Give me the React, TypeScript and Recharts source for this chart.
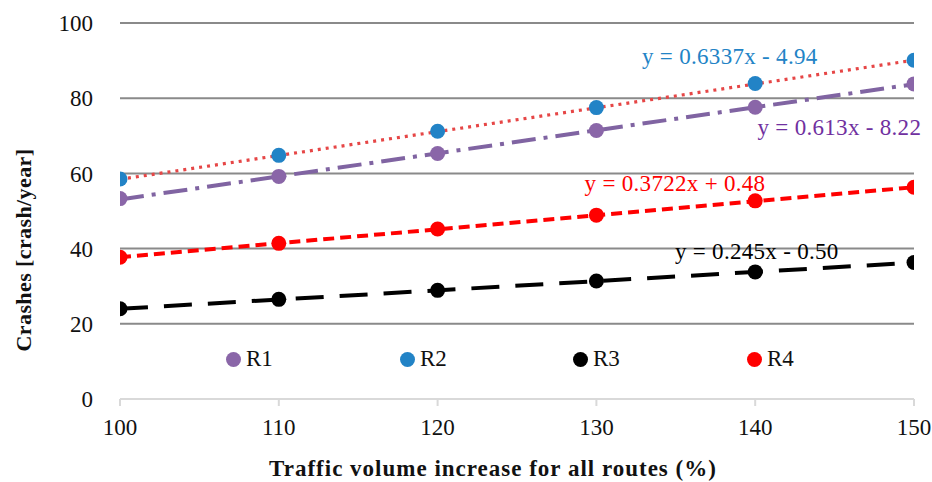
import React from 'react';
import {
  ComposedChart,
  Line,
  Scatter,
  XAxis,
  YAxis,
  CartesianGrid,
  ReferenceDot,
  Label,
} from 'recharts';

// Traffic volume increase (%) at which crashes were evaluated
const volumes = [100, 110, 120, 130, 140, 150];

// Crashes per year for each route
const r1 = [53.3, 59.2, 65.3, 71.4, 77.6, 83.8];
const r2 = [58.5, 64.8, 71.2, 77.5, 83.9, 90.1];
const r3 = [24.0, 26.5, 28.9, 31.4, 33.8, 36.3];
const r4 = [37.7, 41.4, 45.2, 48.9, 52.7, 56.3];

const seriesNames = ['R1', 'R2', 'R3', 'R4'];

// Linear trendline coefficients (y = slope * x + intercept)
const trendSlopes = [0.613, 0.6337, 0.245, 0.3722];
const trendIntercepts = [-8.22, -4.94, -0.5, 0.48];
const trendLabels = [
  'y = 0.613x - 8.22',
  'y = 0.6337x - 4.94',
  'y = 0.245x - 0.50',
  'y = 0.3722x + 0.48',
];

const xTicks = [100, 110, 120, 130, 140, 150];
const yTicks = [0, 20, 40, 60, 80, 100];
const gridValues = [20, 40, 60, 80, 100];

const FONT = "'Liberation Serif', 'Times New Roman', serif";

const markerColors = ['#8A66A8', '#2283C6', '#000000', '#FF0000'];
const labelColors = ['#7030A0', '#2283C6', '#000000', '#FF0000'];

const toPoints = (ys: number[]) => volumes.map((x, i) => ({ x, y: ys[i] }));
const seriesData = [r1, r2, r3, r4].map(toPoints);

// Trendline endpoints across the full x range, from the stated equations
const trendData = trendSlopes.map((m, i) =>
  [volumes[0], volumes[volumes.length - 1]].map((x) => ({
    x,
    y: m * x + trendIntercepts[i],
  }))
);

const Dot = (color: string) => (props: any) => (
  <circle cx={props.cx} cy={props.cy} r={7.5} fill={color} />
);

// Legend item left edges (px) inside the plot area
const legendX = [226, 400, 573, 747];

const LegendOverlay = () => (
  <>
    {seriesNames.map((name, i) => (
      <div
        key={name}
        style={{
          position: 'absolute',
          left: legendX[i],
          top: 346,
          display: 'flex',
          alignItems: 'center',
          fontFamily: FONT,
          fontSize: 23,
          color: '#111',
          lineHeight: '26px',
          height: 26,
        }}
      >
        <span
          style={{
            display: 'inline-block',
            width: 15,
            height: 15,
            borderRadius: 8,
            background: markerColors[i],
            marginRight: 5,
          }}
        />
        {name}
      </div>
    ))}
  </>
);

const eqLabel = (text: string, color: string) => (props: any) => {
  const vb = props.viewBox || {};
  const cx = (vb.x ?? 0) + (vb.width ?? 0) / 2;
  const cy = (vb.y ?? 0) + (vb.height ?? 0) / 2;
  return (
    <text
      x={cx}
      y={cy}
      textAnchor="middle"
      dominantBaseline="central"
      fontFamily={FONT}
      fontSize={23}
      letterSpacing={0.3}
      fill={color}
    >
      {text}
    </text>
  );
};

// Anchor points (in data units) for the trendline equations
const eqAnchors = [
  { x: 145.3, y: 72.1 },
  { x: 138.4, y: 91.2 },
  { x: 140.1, y: 39.1 },
  { x: 134.95, y: 57.4 },
];

export default function App() {
  return (
    <div style={{ position: 'absolute', left: 0, top: 0, width: 932, height: 482, background: '#fff' }}>
      <ComposedChart
        width={932}
        height={482}
        margin={{ top: 23, right: 18, bottom: 33, left: 0 }}
      >
        <CartesianGrid
          vertical={false}
          horizontalValues={gridValues}
          stroke="#8a8a8a"
          strokeWidth={2}
        />
        <XAxis
          dataKey="x"
          type="number"
          domain={[100, 150]}
          ticks={xTicks}
          allowDataOverflow
          height={50}
          axisLine={{ stroke: '#d9d9d9', strokeWidth: 2 }}
          tickLine={{ stroke: '#d9d9d9', strokeWidth: 2 }}
          tickSize={7}
          tickMargin={13}
          tick={{ fontFamily: FONT, fontSize: 23, fill: '#111' }}
        >
          <Label
            content={() => (
              <text
                x={493}
                y={468}
                textAnchor="middle"
                dominantBaseline="central"
                fontFamily={FONT}
                fontSize={23}
                letterSpacing={1}
                fontWeight="bold"
                fill="#111"
              >
                Traffic volume increase for all routes (%)
              </text>
            )}
          />
        </XAxis>
        <YAxis
          dataKey="y"
          type="number"
          domain={[0, 100]}
          ticks={yTicks}
          width={120}
          axisLine={false}
          tickLine={false}
          tickSize={0}
          tickMargin={27}
          tick={{ fontFamily: FONT, fontSize: 23, fill: '#111' }}
        >
          <Label
            content={() => (
              <text
                x={23}
                y={250}
                textAnchor="middle"
                dominantBaseline="central"
                transform="rotate(-90 23 250)"
                fontFamily={FONT}
                fontSize={22}
                letterSpacing={0.4}
                fontWeight="bold"
                fill="#111"
              >
                Crashes [crash/year]
              </text>
            )}
          />
        </YAxis>

        {seriesData.map((d, i) => (
          <Scatter
            key={seriesNames[i]}
            name={seriesNames[i]}
            data={d}
            fill={markerColors[i]}
            shape={Dot(markerColors[i])}
            isAnimationActive={false}
          />
        ))}

        {/* Trendlines: R1 dash-dot, R2 dotted, R3 long dash, R4 dash */}
        <Line
          data={trendData[0]}
          dataKey="y"
          type="linear"
          stroke="#8064A2"
          strokeWidth={4}
          strokeDasharray="24 8 4 8"
          dot={false}
          activeDot={false}
          legendType="none"
          isAnimationActive={false}
        />
        <Line
          data={trendData[1]}
          dataKey="y"
          type="linear"
          stroke="#E64646"
          strokeWidth={3.2}
          strokeDasharray="3 5"
          dot={false}
          activeDot={false}
          legendType="none"
          isAnimationActive={false}
        />
        <Line
          data={trendData[2]}
          dataKey="y"
          type="linear"
          stroke="#000000"
          strokeWidth={4}
          strokeDasharray="28 16"
          dot={false}
          activeDot={false}
          legendType="none"
          isAnimationActive={false}
        />
        <Line
          data={trendData[3]}
          dataKey="y"
          type="linear"
          stroke="#FF0000"
          strokeWidth={4}
          strokeDasharray="11 6"
          dot={false}
          activeDot={false}
          legendType="none"
          isAnimationActive={false}
        />

        {eqAnchors.map((p, i) => (
          <ReferenceDot
            key={trendLabels[i]}
            x={p.x}
            y={p.y}
            r={0}
            fill="none"
            stroke="none"
            label={eqLabel(trendLabels[i], labelColors[i])}
          />
        ))}
      </ComposedChart>
      <LegendOverlay />
    </div>
  );
}
